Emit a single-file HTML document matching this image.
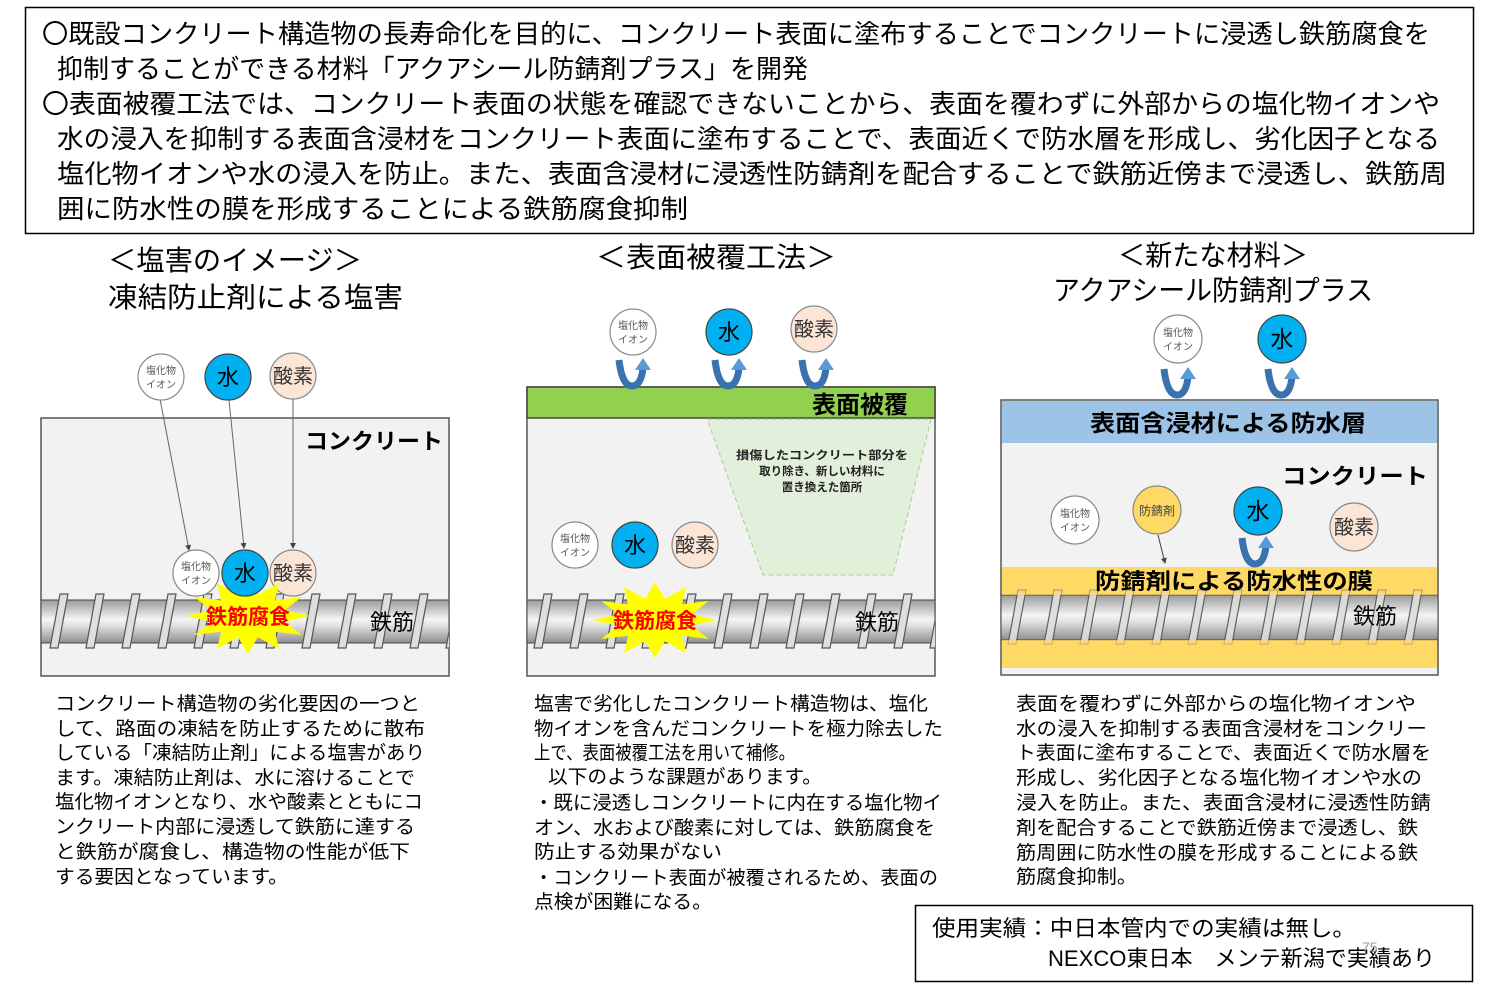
<!DOCTYPE html>
<html><head><meta charset="utf-8"><style>
html,body{margin:0;padding:0;background:#fff;}
svg{display:block;}
text{font-family:"Liberation Sans","Noto Sans CJK JP",sans-serif;}
</style></head><body>
<svg width="1500" height="1002" viewBox="0 0 1500 1002" xmlns="http://www.w3.org/2000/svg">
<defs>
<linearGradient id="bar" x1="0" y1="0" x2="0" y2="1">
<stop offset="0" stop-color="#9a9a9a"/><stop offset="0.45" stop-color="#f4f4f4"/><stop offset="0.6" stop-color="#e0e0e0"/><stop offset="1" stop-color="#8e8e8e"/>
</linearGradient>
<marker id="ah" markerWidth="6" markerHeight="6" refX="5" refY="3" orient="auto"><path d="M0,0 L6,3 L0,6 z" fill="#444"/></marker>
<polygon id="star" points="62,0 36.7,5.7 53.7,19 26.9,15.6 31,32.9 9.8,21.3 0,38 -9.8,21.3 -31,32.9 -26.9,15.6 -53.7,19 -36.7,5.7 -62,0 -36.7,-5.7 -53.7,-19 -26.9,-15.6 -31,-32.9 -9.8,-21.3 0,-38 9.8,-21.3 31,-32.9 26.9,-15.6 53.7,-19 36.7,-5.7" fill="#ffff00"/>
<g id="rib"><polygon points="0,54 8,54 18,0 10,0" fill="#dedede" stroke="#555" stroke-width="1.2"/></g>
<g id="ribs">
<use href="#rib" x="0"/><use href="#rib" x="36"/><use href="#rib" x="72"/><use href="#rib" x="108"/><use href="#rib" x="144"/><use href="#rib" x="180"/><use href="#rib" x="216"/><use href="#rib" x="252"/><use href="#rib" x="288"/><use href="#rib" x="324"/><use href="#rib" x="360"/><use href="#rib" x="396"/><use href="#rib" x="432"/>
</g>
<g id="uarr">
<path d="M-13,0 Q-10,26 0,26 Q9,26 11,8" fill="none" stroke="#3a72b0" stroke-width="7"/>
<polygon points="3,10 11,-2 19,10" fill="#5b9bd5"/>
</g>
<clipPath id="c1"><rect x="41" y="418" width="408" height="258"/></clipPath>
<clipPath id="c2"><rect x="527" y="418" width="408" height="258"/></clipPath>
<clipPath id="c3"><rect x="1001" y="443" width="437" height="232"/></clipPath>
</defs>

<!-- top box -->
<rect x="25.5" y="7.5" width="1448" height="226" fill="#fff" stroke="#000" stroke-width="1.5"/>
<g font-size="26" fill="#000">
<text x="42" y="43" textLength="1388" lengthAdjust="spacingAndGlyphs">〇既設コンクリート構造物の長寿命化を目的に、コンクリート表面に塗布することでコンクリートに浸透し鉄筋腐食を</text>
<text x="57" y="78" textLength="751" lengthAdjust="spacingAndGlyphs">抑制することができる材料「アクアシール防錆剤プラス」を開発</text>
<text x="42" y="113" textLength="1398" lengthAdjust="spacingAndGlyphs">〇表面被覆工法では、コンクリート表面の状態を確認できないことから、表面を覆わずに外部からの塩化物イオンや</text>
<text x="57" y="148" textLength="1383" lengthAdjust="spacingAndGlyphs">水の浸入を抑制する表面含浸材をコンクリート表面に塗布することで、表面近くで防水層を形成し、劣化因子となる</text>
<text x="57" y="183" textLength="1390" lengthAdjust="spacingAndGlyphs">塩化物イオンや水の浸入を防止。また、表面含浸材に浸透性防錆剤を配合することで鉄筋近傍まで浸透し、鉄筋周</text>
<text x="57" y="218" textLength="631" lengthAdjust="spacingAndGlyphs">囲に防水性の膜を形成することによる鉄筋腐食抑制</text>
</g>

<!-- headings -->
<g font-size="28" fill="#000">
<text x="108" y="270" textLength="254" lengthAdjust="spacingAndGlyphs">＜塩害のイメージ＞</text>
<text x="108" y="307" textLength="295" lengthAdjust="spacingAndGlyphs">凍結防止剤による塩害</text>
<text x="596" y="267" textLength="240" lengthAdjust="spacingAndGlyphs">＜表面被覆工法＞</text>
<text x="1118" y="265" textLength="190" lengthAdjust="spacingAndGlyphs">＜新たな材料＞</text>
<text x="1053" y="300" textLength="320" lengthAdjust="spacingAndGlyphs">アクアシール防錆剤プラス</text>
</g>

<!-- LEFT DIAGRAM -->
<rect x="41" y="418" width="408" height="258" fill="#f2f2f2" stroke="#555" stroke-width="1.5"/>
<g clip-path="url(#c1)">
<rect x="41" y="600" width="408" height="43" fill="url(#bar)" stroke="#444"/>
<use href="#ribs" x="50" y="594"/>
</g>
<text x="305" y="449" font-size="22" font-weight="bold" textLength="138" lengthAdjust="spacingAndGlyphs">コンクリート</text>
<text x="370" y="630" font-size="22">鉄筋</text>
<g stroke="#666" stroke-width="1" marker-end="url(#ah)">
<line x1="160" y1="399" x2="189" y2="550"/><line x1="229" y1="400" x2="244" y2="548"/><line x1="293" y1="399" x2="293" y2="548"/>
</g>
<g stroke="#888" stroke-width="1.2">
<circle cx="161" cy="377" r="23" fill="#fff"/><circle cx="228" cy="377" r="23" fill="#00b0f0" stroke="#444"/><circle cx="293" cy="376" r="23" fill="#fbe5d6"/>
<circle cx="196" cy="573" r="23" fill="#fff"/><circle cx="293" cy="573" r="23" fill="#fbe5d6"/>
</g>
<use href="#star" x="248" y="616"/>
<circle cx="245" cy="573" r="23" fill="#00b0f0" stroke="#444" stroke-width="1.2"/>
<g fill="#555" font-size="10" text-anchor="middle"><text x="161" y="374">塩化物</text><text x="161" y="388">イオン</text><text x="196" y="570">塩化物</text><text x="196" y="584">イオン</text></g>
<g font-size="22" text-anchor="middle"><text x="228" y="385">水</text><text x="245" y="581">水</text></g>
<g font-size="20" text-anchor="middle" fill="#333"><text x="293" y="383">酸素</text><text x="293" y="580">酸素</text></g>
<text x="248" y="624" font-size="21" font-weight="bold" fill="#ff0000" text-anchor="middle">鉄筋腐食</text>

<!-- MIDDLE DIAGRAM -->
<rect x="527" y="387" width="408" height="289" fill="#f2f2f2" stroke="#555" stroke-width="1.5"/>
<rect x="527" y="387" width="408" height="31" fill="#92d050" stroke="#444" stroke-width="1.5"/>
<text x="908" y="413" font-size="24" font-weight="bold" text-anchor="end">表面被覆</text>
<polygon points="707,419 931,419 893,575 763,575" fill="#e2efda" stroke="#a9d18e" stroke-width="1" stroke-dasharray="5,3"/>
<g font-size="11.5" font-weight="bold" fill="#222" text-anchor="middle">
<text x="822" y="459" textLength="172" lengthAdjust="spacingAndGlyphs">損傷したコンクリート部分を</text><text x="822" y="475">取り除き、新しい材料に</text><text x="822" y="491">置き換えた箇所</text>
</g>
<g clip-path="url(#c2)">
<rect x="527" y="600" width="408" height="43" fill="url(#bar)" stroke="#444"/>
<use href="#ribs" x="534" y="594"/>
</g>
<text x="855" y="630" font-size="22">鉄筋</text>
<use href="#star" x="655" y="620"/>
<text x="655" y="628" font-size="21" font-weight="bold" fill="#ff0000" text-anchor="middle">鉄筋腐食</text>
<use href="#uarr" x="632" y="360"/><use href="#uarr" x="728" y="360"/><use href="#uarr" x="815" y="360"/>
<g stroke="#888" stroke-width="1.2">
<circle cx="633" cy="332" r="23" fill="#fff"/><circle cx="729" cy="332" r="23" fill="#00b0f0" stroke="#444"/><circle cx="814" cy="329" r="23" fill="#fbe5d6"/>
<circle cx="575" cy="545" r="23" fill="#fff"/><circle cx="635" cy="545" r="23" fill="#00b0f0" stroke="#444"/><circle cx="695" cy="545" r="23" fill="#fbe5d6"/>
</g>
<g fill="#555" font-size="10" text-anchor="middle"><text x="633" y="329">塩化物</text><text x="633" y="343">イオン</text><text x="575" y="542">塩化物</text><text x="575" y="556">イオン</text></g>
<g font-size="22" text-anchor="middle"><text x="729" y="340">水</text><text x="635" y="553">水</text></g>
<g font-size="20" text-anchor="middle" fill="#333"><text x="814" y="336">酸素</text><text x="695" y="552">酸素</text></g>

<!-- RIGHT DIAGRAM -->
<rect x="1001" y="400" width="437" height="275" fill="#f2f2f2" stroke="#555" stroke-width="1.5"/>
<rect x="1002" y="401" width="435" height="42" fill="#9dc3e6"/>
<text x="1228" y="431" font-size="23" font-weight="bold" text-anchor="middle" textLength="276" lengthAdjust="spacingAndGlyphs">表面含浸材による防水層</text>
<text x="1282" y="484" font-size="22" font-weight="bold" textLength="146" lengthAdjust="spacingAndGlyphs">コンクリート</text>
<rect x="1002" y="567" width="435" height="101" fill="#ffd966"/>
<g clip-path="url(#c3)">
<rect x="1001" y="595" width="437" height="45" fill="url(#bar)" stroke="#444"/>
<use href="#ribs" x="1008" y="590" opacity="0.9"/>
</g>
<rect x="1002" y="567" width="435" height="28" fill="#ffd966" opacity="0.55"/>
<rect x="1002" y="640" width="435" height="28" fill="#ffd966" opacity="0.7"/>
<text x="1234" y="589" font-size="22" font-weight="bold" text-anchor="middle" textLength="278" lengthAdjust="spacingAndGlyphs">防錆剤による防水性の膜</text>
<text x="1353" y="624" font-size="22">鉄筋</text>
<use href="#uarr" x="1177" y="369"/><use href="#uarr" x="1281" y="369"/><use href="#uarr" x="1255" y="538"/>
<line x1="1158" y1="535" x2="1165" y2="563" stroke="#444" stroke-width="1" marker-end="url(#ah)"/>
<g stroke="#888" stroke-width="1.2">
<circle cx="1178" cy="339" r="24" fill="#fff"/><circle cx="1282" cy="339" r="24" fill="#00b0f0" stroke="#444"/>
<circle cx="1075" cy="520" r="24" fill="#fff"/><circle cx="1157" cy="510" r="24" fill="#ffd966"/>
<circle cx="1258" cy="511" r="24" fill="#00b0f0" stroke="#444"/><circle cx="1354" cy="527" r="24" fill="#fbe5d6"/>
</g>
<g fill="#555" font-size="10" text-anchor="middle"><text x="1178" y="336">塩化物</text><text x="1178" y="350">イオン</text><text x="1075" y="517">塩化物</text><text x="1075" y="531">イオン</text></g>
<text x="1157" y="515" font-size="12" text-anchor="middle" fill="#444">防錆剤</text>
<g font-size="23" text-anchor="middle"><text x="1282" y="347">水</text><text x="1258" y="519">水</text></g>
<text x="1354" y="534" font-size="20" text-anchor="middle" fill="#333">酸素</text>

<!-- captions -->
<g font-size="19" fill="#000">
<text x="55" y="710" textLength="365" lengthAdjust="spacingAndGlyphs">コンクリート構造物の劣化要因の一つと</text>
<text x="55" y="735" textLength="370" lengthAdjust="spacingAndGlyphs">して、路面の凍結を防止するために散布</text>
<text x="55" y="759" textLength="370" lengthAdjust="spacingAndGlyphs">している「凍結防止剤」による塩害があり</text>
<text x="55" y="784" textLength="360" lengthAdjust="spacingAndGlyphs">ます。凍結防止剤は、水に溶けることで</text>
<text x="55" y="808" textLength="368" lengthAdjust="spacingAndGlyphs">塩化物イオンとなり、水や酸素とともにコ</text>
<text x="55" y="833" textLength="360" lengthAdjust="spacingAndGlyphs">ンクリート内部に浸透して鉄筋に達する</text>
<text x="55" y="858" textLength="355" lengthAdjust="spacingAndGlyphs">と鉄筋が腐食し、構造物の性能が低下</text>
<text x="55" y="883" textLength="233" lengthAdjust="spacingAndGlyphs">する要因となっています。</text>

<text x="534" y="710" textLength="394" lengthAdjust="spacingAndGlyphs">塩害で劣化したコンクリート構造物は、塩化</text>
<text x="534" y="735" textLength="409" lengthAdjust="spacingAndGlyphs">物イオンを含んだコンクリートを極力除去した</text>
<text x="534" y="759" textLength="261" lengthAdjust="spacingAndGlyphs">上で、表面被覆工法を用いて補修。</text>
<text x="548" y="783" textLength="274" lengthAdjust="spacingAndGlyphs">以下のような課題があります。</text>
<text x="534" y="809" textLength="408" lengthAdjust="spacingAndGlyphs">・既に浸透しコンクリートに内在する塩化物イ</text>
<text x="534" y="834" textLength="401" lengthAdjust="spacingAndGlyphs">オン、水および酸素に対しては、鉄筋腐食を</text>
<text x="534" y="858" textLength="188" lengthAdjust="spacingAndGlyphs">防止する効果がない</text>
<text x="534" y="884" textLength="404" lengthAdjust="spacingAndGlyphs">・コンクリート表面が被覆されるため、表面の</text>
<text x="534" y="908" textLength="178" lengthAdjust="spacingAndGlyphs">点検が困難になる。</text>

<text x="1016" y="710" textLength="400" lengthAdjust="spacingAndGlyphs">表面を覆わずに外部からの塩化物イオンや</text>
<text x="1016" y="735" textLength="411" lengthAdjust="spacingAndGlyphs">水の浸入を抑制する表面含浸材をコンクリー</text>
<text x="1016" y="759" textLength="415" lengthAdjust="spacingAndGlyphs">ト表面に塗布することで、表面近くで防水層を</text>
<text x="1016" y="784" textLength="406" lengthAdjust="spacingAndGlyphs">形成し、劣化因子となる塩化物イオンや水の</text>
<text x="1016" y="809" textLength="415" lengthAdjust="spacingAndGlyphs">浸入を防止。また、表面含浸材に浸透性防錆</text>
<text x="1016" y="834" textLength="402" lengthAdjust="spacingAndGlyphs">剤を配合することで鉄筋近傍まで浸透し、鉄</text>
<text x="1016" y="859" textLength="402" lengthAdjust="spacingAndGlyphs">筋周囲に防水性の膜を形成することによる鉄</text>
<text x="1016" y="883" textLength="121" lengthAdjust="spacingAndGlyphs">筋腐食抑制。</text>
</g>

<!-- bottom box -->
<rect x="915.5" y="905.5" width="557" height="76" fill="#fff" stroke="#000" stroke-width="1.5"/>
<text x="932" y="936" font-size="22" textLength="424" lengthAdjust="spacingAndGlyphs">使用実績：中日本管内での実績は無し。</text>
<text x="1048" y="966" font-size="22" textLength="387" lengthAdjust="spacingAndGlyphs">NEXCO東日本　メンテ新潟で実績あり</text>
<text x="1362" y="952" font-size="14" fill="#999">75</text>
</svg>
</body></html>
